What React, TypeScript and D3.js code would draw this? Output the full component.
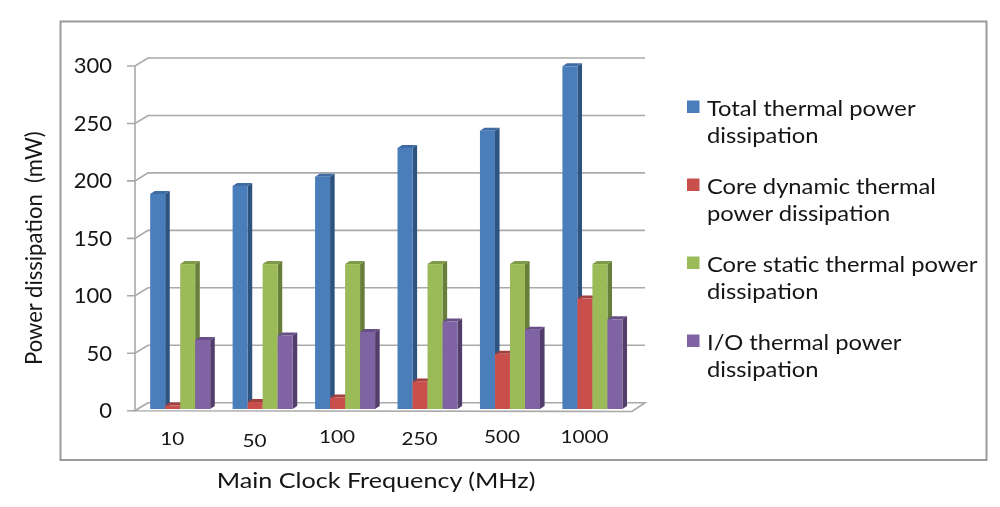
import * as React from 'react'
import * as d3 from 'd3'

const categories = ['10', '50', '100', '250', '500', '1000']
const total = [187, 194, 202, 227, 242, 298]
const coreDynamic = [3, 6, 10, 24, 48, 96]
const coreStatic = [126, 126, 126, 126, 126, 126]
const io = [60, 64, 67, 76, 69, 78]
const yTicks = [0, 50, 100, 150, 200, 250, 300]

const seriesNames = ['total', 'coreDynamic', 'coreStatic', 'io']
const seriesValues = [total, coreDynamic, coreStatic, io]
const legendLines = [
  ['Total thermal power', 'dissipation'],
  ['Core dynamic thermal', 'power dissipation'],
  ['Core static thermal power', 'dissipation'],
  ['I/O thermal power', 'dissipation'],
]

// front, top, side shades
const colors = [
  { front: '#4a7ebb', top: '#3f6ca3', side: '#2f5380' },
  { front: '#c9504d', top: '#a23f3c', side: '#7e302e' },
  { front: '#9bbb59', top: '#7f9a48', side: '#677e3a' },
  { front: '#8064a2', top: '#674f85', side: '#523e6b' },
]

const FONT = 'Lato, "Open Sans", sans-serif'
const TEXT = '#141414'
const GRID = '#a9a9a9'

// the 3d offset of the chart floor and of a bar
const wallDx = 13
const wallDy = -8
const barDx = 4.6
const barDy = -3

const axisY = d3.scaleLinear().domain([0, 300]).range([410.7, 66])
const barY = d3.scaleLinear().domain([0, 300]).range([409, 64])
const groupX = d3.scaleBand().domain(categories).range([137.8, 634.8]).paddingInner(0.272).paddingOuter(0.15)
const seriesX = d3.scaleBand().domain(seriesNames).range([0, groupX.bandwidth()])

// the category labels sit a little unevenly in the source
const labelNudge: Record<string, number> = { '10': 0, '50': 2, '100': -2, '250': 0, '500': -2, '1000': -2 }
const floorRight = 632

function Stretched({ x, y, size, sx, anchor, children }: any) {
  return (
    <text
      transform={`translate(${x},${y}) scale(${sx},1)`}
      fontFamily={FONT}
      fontSize={size}
      fill={TEXT}
      textAnchor={anchor || 'start'}
    >
      {children}
    </text>
  )
}

function Bar({ x, y, w, base, c }: { x: number; y: number; w: number; base: number; c: (typeof colors)[0] }) {
  const top = `${x},${y} ${x + barDx},${y + barDy} ${x + w + barDx},${y + barDy} ${x + w},${y}`
  const side = `${x + w},${y} ${x + w + barDx},${y + barDy} ${x + w + barDx},${base + barDy} ${x + w},${base}`
  return (
    <g>
      <polygon points={side} fill={c.side} />
      <polygon points={top} fill={c.top} />
      <rect x={x} y={y} width={w} height={base - y} fill={c.front} />
    </g>
  )
}

export default function App() {
  const axisX = 135
  const base = barY(0)
  const w = seriesX.bandwidth()

  return (
    <svg
      width={1000}
      height={507}
      viewBox="0 0 1000 507"
      style={{ position: 'absolute', left: 0, top: 0, background: '#fff' }}
    >
      <defs>
        <filter id="soft" x="-5%" y="-5%" width="110%" height="110%">
          <feGaussianBlur stdDeviation="0.45" />
        </filter>
      </defs>
      <g filter="url(#soft)">
        <rect x={60.5} y={21.5} width={926} height={438.5} fill="#fff" stroke="#9a9a9a" strokeWidth={2} />

        {/* back wall grid with the slanted ticks */}
        {yTicks.map(t => {
          const y = axisY(t)
          return (
            <g key={t} fill="none" stroke={GRID} strokeWidth={1.6}>
              <polyline
                points={`${axisX - 8},${y} ${axisX},${y} ${axisX + wallDx},${y + wallDy} 645,${y + wallDy}`}
              />
            </g>
          )
        })}
        <line x1={axisX} x2={axisX} y1={axisY(300)} y2={axisY(0)} stroke={GRID} strokeWidth={1.6} />
        <polygon
          points={`${axisX},${axisY(0)} ${floorRight},${axisY(0) + 0.8} 645,${axisY(0) + wallDy} ${axisX + wallDx},${axisY(0) + wallDy}`}
          fill="#fff"
          stroke={GRID}
          strokeWidth={1.6}
        />

        {categories.map((cat, i) => (
          <g key={cat}>
            {seriesNames.map((s, k) => {
              const x = (groupX(cat) as number) + (seriesX(s) as number)
              return <Bar key={s} x={x} y={barY(seriesValues[k][i])} w={w} base={base} c={colors[k]} />
            })}
          </g>
        ))}

        {yTicks.map(t => (
          <Stretched key={t} x={112} y={axisY(t) + 7.4} size={22} sx={1} anchor="end">
            {t}
          </Stretched>
        ))}

        {categories.map(cat => (
          <Stretched
            key={cat}
            x={(groupX(cat) as number) + groupX.bandwidth() / 2 - 8}
            y={445 + labelNudge[cat]}
            size={17}
            sx={1.22}
            anchor="middle"
          >
            {cat}
          </Stretched>
        ))}

        <text
          transform="translate(42,365) rotate(-90) scale(0.92,1)"
          fontFamily={FONT}
          fontSize={24}
          fill={TEXT}
          xmlSpace="preserve"
        >
          Power dissipation  (mW)
        </text>

        <Stretched x={376} y={488} size={22} sx={1.145} anchor="middle">
          Main Clock Frequency (MHz)
        </Stretched>

        {legendLines.map((lines, k) => {
          const y0 = 116 + k * 78
          return (
            <g key={k}>
              <rect x={687} y={y0 - 15.5} width={12.5} height={12.5} fill={colors[k].front} />
              {lines.map((line, j) => (
                <Stretched key={j} x={707} y={y0 + j * 26.5} size={22} sx={1.08}>
                  {line}
                </Stretched>
              ))}
            </g>
          )
        })}
      </g>
    </svg>
  )
}
